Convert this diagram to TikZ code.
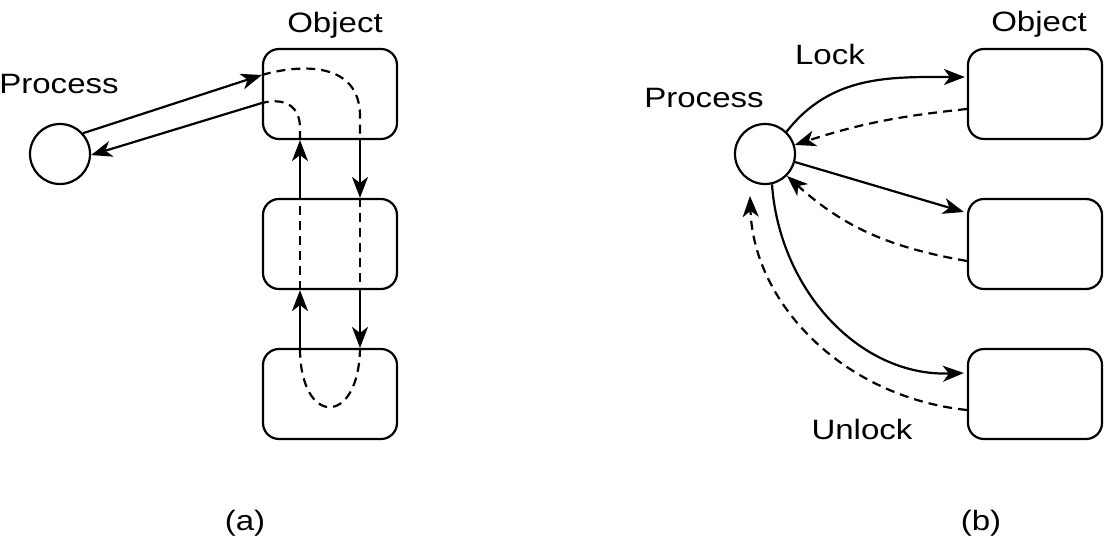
\documentclass[tikz,border=0pt]{standalone}
\usepackage{fontspec}
\setmainfont{Liberation Sans}[FakeStretch=1.18]
\usetikzlibrary{arrows.meta,calc}
\tikzset{
  ln/.style={line width=2.2pt},
  arrtip/.style={-{Stealth[length=21pt,width=16pt,inset=6pt]}},
  arr/.style={ln,arrtip},
  dsh/.style={ln,dash pattern=on 9pt off 6pt},
  darr/.style={dsh,arrtip},
  obj/.style={draw,ln,rounded corners=16pt,minimum width=134pt,minimum height=90pt,inner sep=0pt},
  proc/.style={draw,ln,circle,minimum size=60pt,inner sep=0pt},
  lbl/.style={font=\fontsize{28}{32}\selectfont,anchor=base,inner sep=0pt}
}
\begin{document}
\begin{tikzpicture}[x=1pt,y=-1pt]
\useasboundingbox (0,0) rectangle (1104,537);
% ---------- (a) ----------
\node[proc] (PA) at (60,154) {};
\node[obj] (LA1) at (330,94) {};
\node[obj] (LA2) at (330,244) {};
\node[obj] (LA3) at (330,394) {};
\node[lbl] (tPA) at (59,94) {Process};
\node[lbl] (tOA) at (335,33) {Object};
\node[lbl] (ta) at (245,530) {(a)};
\draw[arr] (PA.42) -- ($(LA1.west)+(0,-19)$);
\draw[dsh] ($(LA1.west)+(0,-19)$) .. controls (300,64) and ($(LA1.south)+(30,-79)$) .. ($(LA1.south)+(30,-24)$) -- ($(LA1.south)+(30,0)$);
\draw[arr] ($(LA1.south)+(30,0)$) -- ($(LA2.north)+(30,0)$);
\draw[dsh] ($(LA2.north)+(30,0)$) -- ($(LA2.south)+(30,0)$);
\draw[arr] ($(LA2.south)+(30,0)$) -- ($(LA3.north)+(30,0)$);
\draw[dsh] ($(LA3.north)+(30,0)$) .. controls ($(LA3.north)+(29,79)$) and ($(LA3.north)+(-30,79)$) .. ($(LA3.north)+(-30,0)$);
\draw[arr] ($(LA3.north)+(-30,0)$) -- ($(LA2.south)+(-30,0)$);
\draw[dsh] ($(LA2.south)+(-30,0)$) -- ($(LA2.north)+(-30,0)$);
\draw[arr] ($(LA2.north)+(-30,0)$) -- ($(LA1.south)+(-30,0)$);
\draw[dsh] ($(LA1.south)+(-30,0)$) -- ($(LA1.south)+(-30,-12)$) .. controls ($(LA1.south)+(-30,-33)$) and (286,97) .. ($(LA1.west)+(0,9)$);
\draw[arr] ($(LA1.west)+(0,9)$) -- (PA.-2);
% ---------- (b) ----------
\node[proc] (PB) at (765,154) {};
\node[obj] (RB1) at (1035,94) {};
\node[obj] (RB2) at (1035,244) {};
\node[obj] (RB3) at (1035,394) {};
\node[lbl] (tPB) at (704,108) {Process};
\node[lbl] (tOB) at (1039,32) {Object};
\node[lbl] (tLock) at (830,65) {Lock};
\node[lbl] (tUnlock) at (862,439) {Unlock};
\node[lbl] (tb) at (981,530) {(b)};
\draw[arr] (PB.46) to[out=52,in=180] ($(RB1.west)+(-2,-17)$);
\draw[darr] ($(RB1.west)+(0,15)$) to[out=186,in=18] (PB.17);
\draw[arr] (PB.-15) -- ($(RB2.west)+(-3,-32)$);
\draw[darr] ($(RB2.west)+(0,17)$) to[out=170,in=-42] (PB.-45);
\draw[arr] (PB.-77) to[out=-86,in=182] ($(RB3.west)+(-3,-21)$);
\draw[darr,shorten >=15pt] ($(RB3.west)+(0,16)$) to[out=174,in=-88] (PB.-120);
\end{tikzpicture}
\end{document}
